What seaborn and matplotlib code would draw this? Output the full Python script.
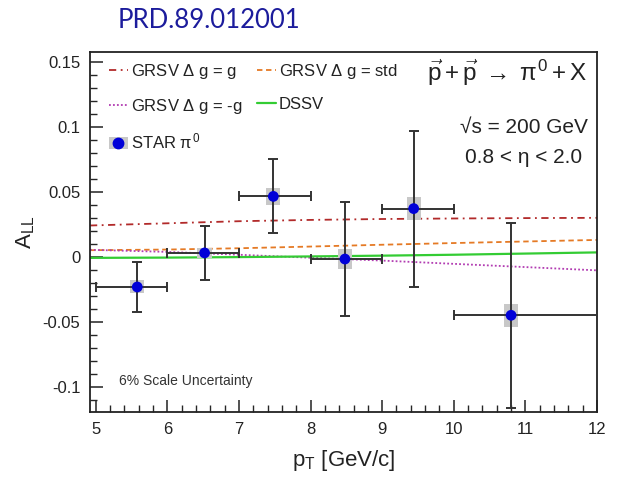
import numpy as np
import pandas as pd
import matplotlib
matplotlib.use("Agg")
import matplotlib.pyplot as plt
import seaborn as sns
from matplotlib.patches import Rectangle
from matplotlib.lines import Line2D
from matplotlib.legend_handler import HandlerTuple
from matplotlib.ticker import MultipleLocator

# ---- data ----
pt = [5.58, 6.52, 7.48, 8.48, 9.44, 10.80]
all_vals = [-0.0228, 0.0034, 0.0469, -0.0013, 0.0375, -0.0446]
stat_err = [0.019, 0.0205, 0.0285, 0.044, 0.060, 0.071]
pt_lo = [5.0, 6.0, 7.0, 8.0, 9.0, 10.0]
pt_hi = [6.0, 7.0, 8.01, 9.0, 10.0, 12.0]
sys_err = [0.005, 0.004, 0.0065, 0.0075, 0.009, 0.009]

pt_curve = [4.92, 6, 7, 8, 9, 10, 11, 12]
grsv_g = [0.0245, 0.0262, 0.0278, 0.0288, 0.0295, 0.0299, 0.0302, 0.0304]
grsv_std = [0.0055, 0.0060, 0.0070, 0.0083, 0.0097, 0.0110, 0.0122, 0.0134]
grsv_mg = [0.0058, 0.0042, 0.0020, -0.0003, -0.0025, -0.0050, -0.0075, -0.0100]
dssv = [-0.0004, -0.0002, 0.0002, 0.0007, 0.0013, 0.0020, 0.0029, 0.0038]

sns.set_style("ticks")
plt.rcParams['font.family'] = ['Liberation Sans', 'DejaVu Sans']
plt.rcParams['mathtext.fontset'] = 'custom'
plt.rcParams['mathtext.rm'] = 'Liberation Sans'
plt.rcParams['mathtext.it'] = 'Liberation Sans'
plt.rcParams['mathtext.bf'] = 'Liberation Sans:bold'

fig = plt.figure(figsize=(6.26, 4.83), dpi=100)
ax = fig.add_axes([90/626, 1-412/483, (597-90)/626, (412-52)/483])

curves = pd.DataFrame({"pt": pt_curve * 4,
                       "all": grsv_g + grsv_std + grsv_mg + dssv,
                       "model": ["g"] * 8 + ["std"] * 8 + ["mg"] * 8 + ["dssv"] * 8})
styles = {
    "g": dict(color="#b22a2a", ls=(0, (4, 2.5, 1, 2.5)), lw=1.3),
    "std": dict(color="#e57a25", ls=(0, (3, 2)), lw=1.3),
    "mg": dict(color="#b23cb2", ls=(0, (1, 1.2)), lw=1.3),
    "dssv": dict(color="#33cc33", ls="-", lw=1.6),
}
for m in ["g", "std", "mg", "dssv"]:
    sub = curves[curves["model"] == m]
    sns.lineplot(data=sub, x="pt", y="all", ax=ax, color=styles[m]["color"],
                 lw=styles[m]["lw"], linestyle=styles[m]["ls"], legend=False, zorder=2)

# systematic boxes
for x, y, s in zip(pt, all_vals, sys_err):
    ax.add_patch(Rectangle((x - 0.1, y - s), 0.2, 2 * s, facecolor="#c8c8c8",
                           edgecolor="none", zorder=3))

xerr = [np.array(pt) - np.array(pt_lo), np.array(pt_hi) - np.array(pt)]
ax.errorbar(pt, all_vals, yerr=stat_err, xerr=xerr, fmt="none", ecolor="#333333",
            elinewidth=1.4, capsize=3.5, capthick=1.4, zorder=4)
pts = pd.DataFrame({"pt": pt, "all": all_vals})
sns.scatterplot(data=pts, x="pt", y="all", ax=ax, color="#0000d8", s=60,
                edgecolor="none", zorder=5, legend=False)

ax.set_xlim(4.92, 12.0)
ax.set_ylim(-0.119, 0.158)
ax.xaxis.set_major_locator(MultipleLocator(1))
ax.xaxis.set_minor_locator(MultipleLocator(0.2))
ax.yaxis.set_major_locator(MultipleLocator(0.05))
ax.yaxis.set_minor_locator(MultipleLocator(0.01))
ax.set_yticks([-0.1, -0.05, 0, 0.05, 0.1, 0.15])
ax.set_yticklabels(["-0.1", "-0.05", "0", "0.05", "0.1", "0.15"])
ax.set_xticks([5, 6, 7, 8, 9, 10, 11, 12])
ax.set_xticklabels(["5", "6", "7", "8", "9", "10", "11", "12"])
ax.tick_params(which="major", direction="in", length=9, width=1.1, labelsize=12,
               colors="#222222", pad=7)
ax.tick_params(which="minor", direction="in", length=5, width=1.0)
for sp in ax.spines.values():
    sp.set_linewidth(1.3)
    sp.set_color("#222222")

ax.set_xlabel("p$_{\\mathrm{T}}$ [GeV/c]", fontsize=16, color="#222222", labelpad=8)
ax.set_ylabel("A$_{\\mathrm{LL}}$", fontsize=16, color="#222222", labelpad=4)

# legend
h_g = Line2D([], [], **styles["g"])
h_std = Line2D([], [], **styles["std"])
h_mg = Line2D([], [], **styles["mg"])
h_dssv = Line2D([], [], **styles["dssv"])
h_box = Rectangle((0, 0), 1, 1, facecolor="#c8c8c8", edgecolor="none")
h_pt = Line2D([], [], ls="none", marker="o", color="#0000d8", markersize=7.5)
leg = ax.legend([h_g, h_mg, (h_box, h_pt), h_std, h_dssv],
                ["GRSV $\\Delta$ g = g", "GRSV $\\Delta$ g = -g", "STAR $\\pi^{0}$",
                 "GRSV $\\Delta$ g = std", "DSSV"],
                handler_map={tuple: HandlerTuple(ndivide=1)},
                ncol=2, loc="upper left", bbox_to_anchor=(0.005, 1.018), frameon=False,
                fontsize=12, handlelength=1.1, handletextpad=0.2,
                labelspacing=0.95, columnspacing=0.9, borderaxespad=0.6)
for t in leg.get_texts():
    t.set_color("#222222")

ax.text(0.982, 0.942,
        "$\\vec{\\mathrm{p}}+\\vec{\\mathrm{p}}\\;\\rightarrow\\;\\pi^{0}+\\mathrm{X}$",
        transform=ax.transAxes, ha="right", va="center", fontsize=17.5, color="#222222")
ax.text(0.982, 0.792, "\u221as = 200 GeV", transform=ax.transAxes,
        ha="right", va="center", fontsize=15, color="#222222")
ax.text(0.970, 0.708, "0.8 < \u03b7 < 2.0", transform=ax.transAxes,
        ha="right", va="center", fontsize=15, color="#222222")
ax.text(0.057, 0.085, "6% Scale Uncertainty", transform=ax.transAxes,
        ha="left", va="center", fontsize=10, color="#333333")

fig.text(118/626, 1-20/483, "PRD.89.012001", ha="left", va="center", fontsize=18.5,
         color="#1c1c9c", family=["Lato", "DejaVu Sans"])

fig.savefig("out.png", dpi=100)
